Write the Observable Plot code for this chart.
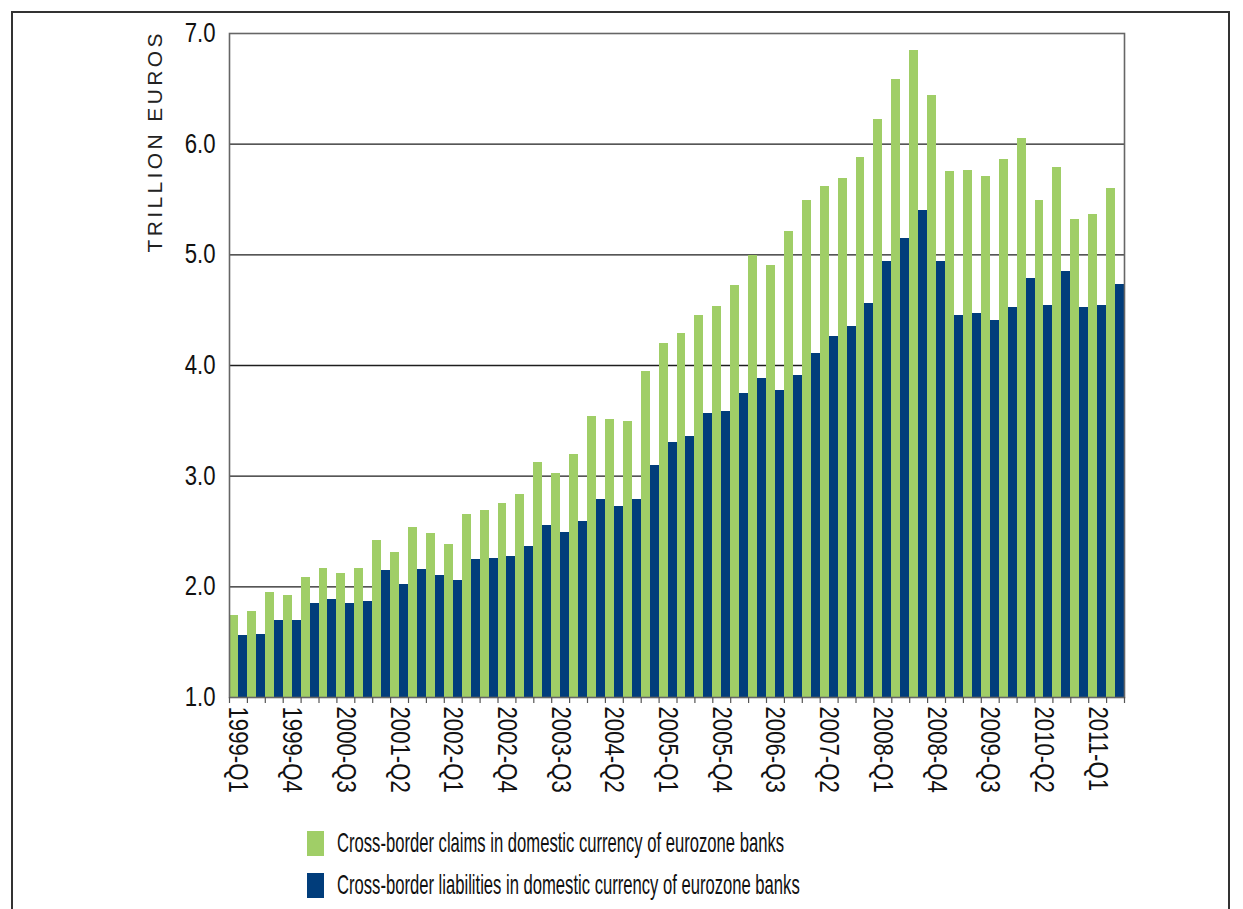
<!DOCTYPE html>
<html>
<head>
<meta charset="utf-8">
<script src="https://cdn.jsdelivr.net/npm/d3@7"></script>
<script src="https://cdn.jsdelivr.net/npm/@observablehq/plot@0.6"></script>
<style>
  html, body { margin: 0; padding: 0; background: #fff; }
  body { width: 1243px; height: 909px; position: relative; overflow: hidden;
         font-family: "Liberation Sans", Arial, sans-serif; }
  #border { position: absolute; left: 11px; top: 11px; width: 1219px; height: 920px;
            border: 2px solid #333; box-sizing: border-box; pointer-events: none; }
  #chart { position: absolute; left: 0; top: 0; }
  #chart svg { overflow: visible; }
  #legend { position: absolute; left: 307px; top: 822px; color: #111; font-size: 28px; }
  .row { display: flex; align-items: center; height: 42px; }
  .sw { width: 17px; height: 25px; margin-right: 13px; flex: none; }
  .lbl { display: inline-block; transform-origin: left center; white-space: nowrap; }
</style>
</head>
<body>
<div id="chart"></div>
<div id="legend"></div>
<div id="border"></div>
<script>
const quarters = [
  "1999-Q1","1999-Q2","1999-Q3","1999-Q4",
  "2000-Q1","2000-Q2","2000-Q3","2000-Q4",
  "2001-Q1","2001-Q2","2001-Q3","2001-Q4",
  "2002-Q1","2002-Q2","2002-Q3","2002-Q4",
  "2003-Q1","2003-Q2","2003-Q3","2003-Q4",
  "2004-Q1","2004-Q2","2004-Q3","2004-Q4",
  "2005-Q1","2005-Q2","2005-Q3","2005-Q4",
  "2006-Q1","2006-Q2","2006-Q3","2006-Q4",
  "2007-Q1","2007-Q2","2007-Q3","2007-Q4",
  "2008-Q1","2008-Q2","2008-Q3","2008-Q4",
  "2009-Q1","2009-Q2","2009-Q3","2009-Q4",
  "2010-Q1","2010-Q2","2010-Q3","2010-Q4",
  "2011-Q1","2011-Q2"
];
// Cross-border claims in domestic currency (trillion euros)
const claims = [
  1.74, 1.78, 1.95, 1.92, 2.08, 2.17, 2.12, 2.17, 2.42, 2.31,
  2.54, 2.48, 2.38, 2.65, 2.69, 2.75, 2.83, 3.12, 3.02, 3.20,
  3.54, 3.51, 3.49, 3.95, 4.20, 4.29, 4.45, 4.53, 4.72, 4.99,
  4.90, 5.21, 5.49, 5.62, 5.69, 5.88, 6.22, 6.58, 6.85, 6.44,
  5.75, 5.76, 5.71, 5.86, 6.05, 5.49, 5.79, 5.32, 5.36, 5.60
];
// Cross-border liabilities in domestic currency (trillion euros)
const liabilities = [
  1.56, 1.57, 1.70, 1.70, 1.85, 1.89, 1.85, 1.87, 2.15, 2.02,
  2.16, 2.10, 2.06, 2.25, 2.26, 2.27, 2.36, 2.55, 2.49, 2.59,
  2.79, 2.73, 2.79, 3.10, 3.30, 3.36, 3.57, 3.58, 3.75, 3.88,
  3.77, 3.91, 4.11, 4.26, 4.35, 4.56, 4.94, 5.15, 5.40, 4.94,
  4.45, 4.47, 4.41, 4.52, 4.79, 4.54, 4.85, 4.52, 4.54, 4.73
];
const yTicks = [1, 2, 3, 4, 5, 6, 7];
const gridValues = [2, 3, 4, 5, 6];
const labelStep = 3;
const seriesNames = [
  "Cross-border claims in domestic currency of eurozone banks",
  "Cross-border liabilities in domestic currency of eurozone banks"
];
const yLabel = "TRILLION EUROS";

const GREEN = "#a0ce67";
const BLUE = "#013d7b";
const FONT = '"Liberation Sans", Arial, sans-serif';
const NARROW = 0.82; // condensed look

const data = quarters.map((q, i) => ({q, i, claims: claims[i], liab: liabilities[i]}));
const labeled = data.filter(d => d.i % labelStep === 0);

const chart = Plot.plot({
  width: 1243,
  height: 806,
  marginLeft: 229,
  marginRight: 119,
  marginTop: 33,
  marginBottom: 109,
  style: {fontFamily: FONT, fontSize: "27px", color: "#111", background: "transparent"},
  x: {domain: [0, quarters.length], axis: null},
  y: {domain: [1, 7], axis: null},
  marks: [
    Plot.gridY(gridValues, {stroke: "#1e1e1e", strokeOpacity: 1, strokeWidth: 1.3}),
    Plot.rect(data, {x1: d => d.i, x2: d => d.i + 0.5, y1: () => 1, y2: "claims",
      fill: GREEN, shapeRendering: "crispEdges"}),
    Plot.rect(data, {x1: d => d.i + 0.5, x2: d => d.i + 1, y1: () => 1, y2: "liab",
      fill: BLUE, shapeRendering: "crispEdges"}),
    Plot.frame({stroke: "#666", strokeWidth: 1.6}),
    Plot.axisY({ticks: yTicks, tickFormat: d3.format(".1f"), tickSize: 0, tickPadding: 14,
      fontSize: 27, fill: "#111"}),
    Plot.axisX({ticks: d3.range(quarters.length + 1), tickFormat: () => "", tickSize: 6,
      stroke: "#555", strokeWidth: 1.2}),
    Plot.text(labeled, {x: d => d.i + 0.5, text: "q", frameAnchor: "bottom", dy: 9, dx: -9,
      rotate: 90, textAnchor: "start", fontSize: 27, fill: "#111"}),
    Plot.text([yLabel], {frameAnchor: "top-left", dx: -82, dy: 0, rotate: -90,
      textAnchor: "end", fontSize: 21, fill: "#222"})
  ]
});
document.getElementById("chart").appendChild(chart);

// condense text along its reading direction (the original uses a condensed face)
const tickSet = new Set(yTicks.map(d3.format(".1f")));
const quarterSet = new Set(quarters);
chart.querySelectorAll("text").forEach(t => {
  const s = t.textContent;
  if (s === yLabel) {
    t.setAttribute("textLength", 219);
    t.setAttribute("lengthAdjust", "spacing");
  } else if (tickSet.has(s) || quarterSet.has(s)) {
    const L = t.getComputedTextLength();
    t.setAttribute("textLength", (L * NARROW).toFixed(1));
    t.setAttribute("lengthAdjust", "spacingAndGlyphs");
  }
});

const legend = document.getElementById("legend");
[GREEN, BLUE].forEach((color, k) => {
  const row = document.createElement("div");
  row.className = "row";
  const sw = document.createElement("span");
  sw.className = "sw";
  sw.style.background = color;
  const lbl = document.createElement("span");
  lbl.className = "lbl";
  lbl.textContent = seriesNames[k];
  row.appendChild(sw);
  row.appendChild(lbl);
  legend.appendChild(row);
});
// first legend label spans ~447px in the reference
const first = legend.querySelector(".lbl");
const sx = 447 / first.getBoundingClientRect().width;
legend.querySelectorAll(".lbl").forEach(l => l.style.transform = `scaleX(${sx})`);
</script>
</body>
</html>
